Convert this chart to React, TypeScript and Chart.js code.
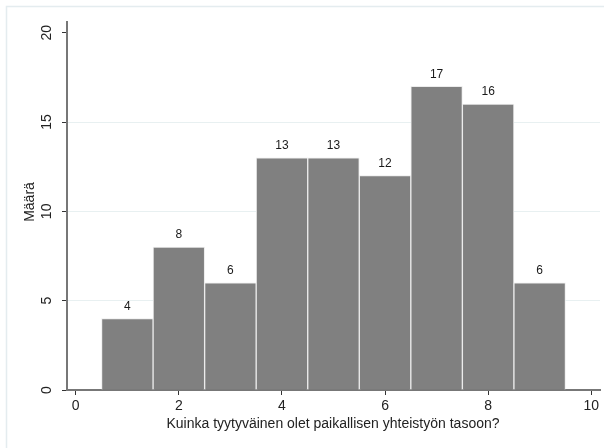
import React, { useEffect, useRef } from "react";
import { Chart, registerables } from "chart.js";

Chart.register(...registerables);

const categories = [1, 2, 3, 4, 5, 6, 7, 8, 9];
const counts = [4, 8, 6, 13, 13, 12, 17, 16, 6];
const xTicks = [0, 2, 4, 6, 8, 10];
const yTicks = [0, 5, 10, 15, 20];
const xTitle = "Kuinka tyytyväinen olet paikallisen yhteistyön tasoon?";
const yTitle = "Määrä";

const FONT = "'Liberation Sans', Arial, sans-serif";

export default function App() {
  const ref = useRef<HTMLCanvasElement | null>(null);

  useEffect(() => {
    document.body.style.margin = "0";
    const canvas = ref.current!;
    const overlay = {
      id: "overlay",
      beforeDraw(chart: any) {
        const ctx = chart.ctx;
        ctx.save();
        ctx.strokeStyle = "#e4ecef";
        ctx.lineWidth = 1.5;
        ctx.strokeRect(6.5, 6.5, 800, 800);
        ctx.restore();
      },
      afterDraw(chart: any) {
        const ctx = chart.ctx;
        const y = chart.scales.y;
        const area = chart.chartArea;
        ctx.save();
        ctx.fillStyle = "#222";
        ctx.font = `14px ${FONT}`;
        ctx.textAlign = "center";
        ctx.textBaseline = "middle";
        yTicks.forEach((v) => {
          const py = y.getPixelForValue(v);
          ctx.save();
          ctx.translate(47, py);
          ctx.rotate(-Math.PI / 2);
          ctx.fillText(String(v), 0, 0);
          ctx.restore();
        });
        // y title
        ctx.save();
        ctx.translate(30, (area.top + area.bottom) / 2 - 4);
        ctx.rotate(-Math.PI / 2);
        ctx.fillText(yTitle, 0, 0);
        ctx.restore();
        // x title
        ctx.fillText(xTitle, 333, 424);
        // data labels
        ctx.font = `12px ${FONT}`;
        ctx.fillStyle = "#1a1a1a";
        const meta = chart.getDatasetMeta(0);
        meta.data.forEach((bar: any, i: number) => {
          ctx.fillText(String(counts[i]), bar.x, bar.y - 12);
        });
        ctx.restore();
      },
    };

    const chart = new Chart(canvas, {
      type: "bar",
      data: {
        datasets: [
          {
            data: categories.map((c, i) => ({ x: c, y: counts[i] })),
            backgroundColor: "#808080",
            borderColor: "#ececec",
            borderWidth: 1,
            barPercentage: 1,
            categoryPercentage: 1,
          } as any,
        ],
      },
      options: {
        animation: false,
        responsive: false,
        devicePixelRatio: 1,
        layout: { padding: { left: 0, top: 22, right: 4, bottom: 0 } },
        plugins: { legend: { display: false }, tooltip: { enabled: false } },
        scales: {
          x: {
            type: "linear",
            offset: false,
            min: -0.17,
            max: 10.17,
            afterBuildTicks: (s: any) => {
              s.ticks = xTicks.map((v) => ({ value: v }));
            },
            afterFit: (s: any) => {
              s.height = 58;
            },
            grid: {
              offset: false,
              drawOnChartArea: false,
              drawTicks: true,
              tickLength: 5,
              tickColor: "#333",
              tickWidth: 1,
            },
            border: { display: true, color: "#777", width: 2 },
            ticks: {
              color: "#222",
              font: { family: FONT, size: 14 },
              padding: 3,
              maxRotation: 0,
            },
          },
          y: {
            type: "linear",
            min: 0,
            max: 20.6,
            afterBuildTicks: (s: any) => {
              s.ticks = yTicks.map((v) => ({ value: v }));
            },
            afterFit: (s: any) => {
              s.width = 67;
            },
            grid: {
              drawOnChartArea: true,
              drawTicks: true,
              tickLength: 5,
              tickColor: "#333",
              tickWidth: 1,
              color: (c: any) => (c.tick && c.tick.value === 20 ? "rgba(0,0,0,0)" : "#e8f0f1"),
              lineWidth: 1,
            },
            border: { display: true, color: "#777", width: 2 },
            ticks: { display: false },
          },
        },
      },
      plugins: [overlay],
    } as any);
    return () => chart.destroy();
  }, []);

  return (
    <div style={{ width: 604, height: 448 }}>
      <canvas ref={ref} width={604} height={448} style={{ display: "block" }} />
    </div>
  );
}
